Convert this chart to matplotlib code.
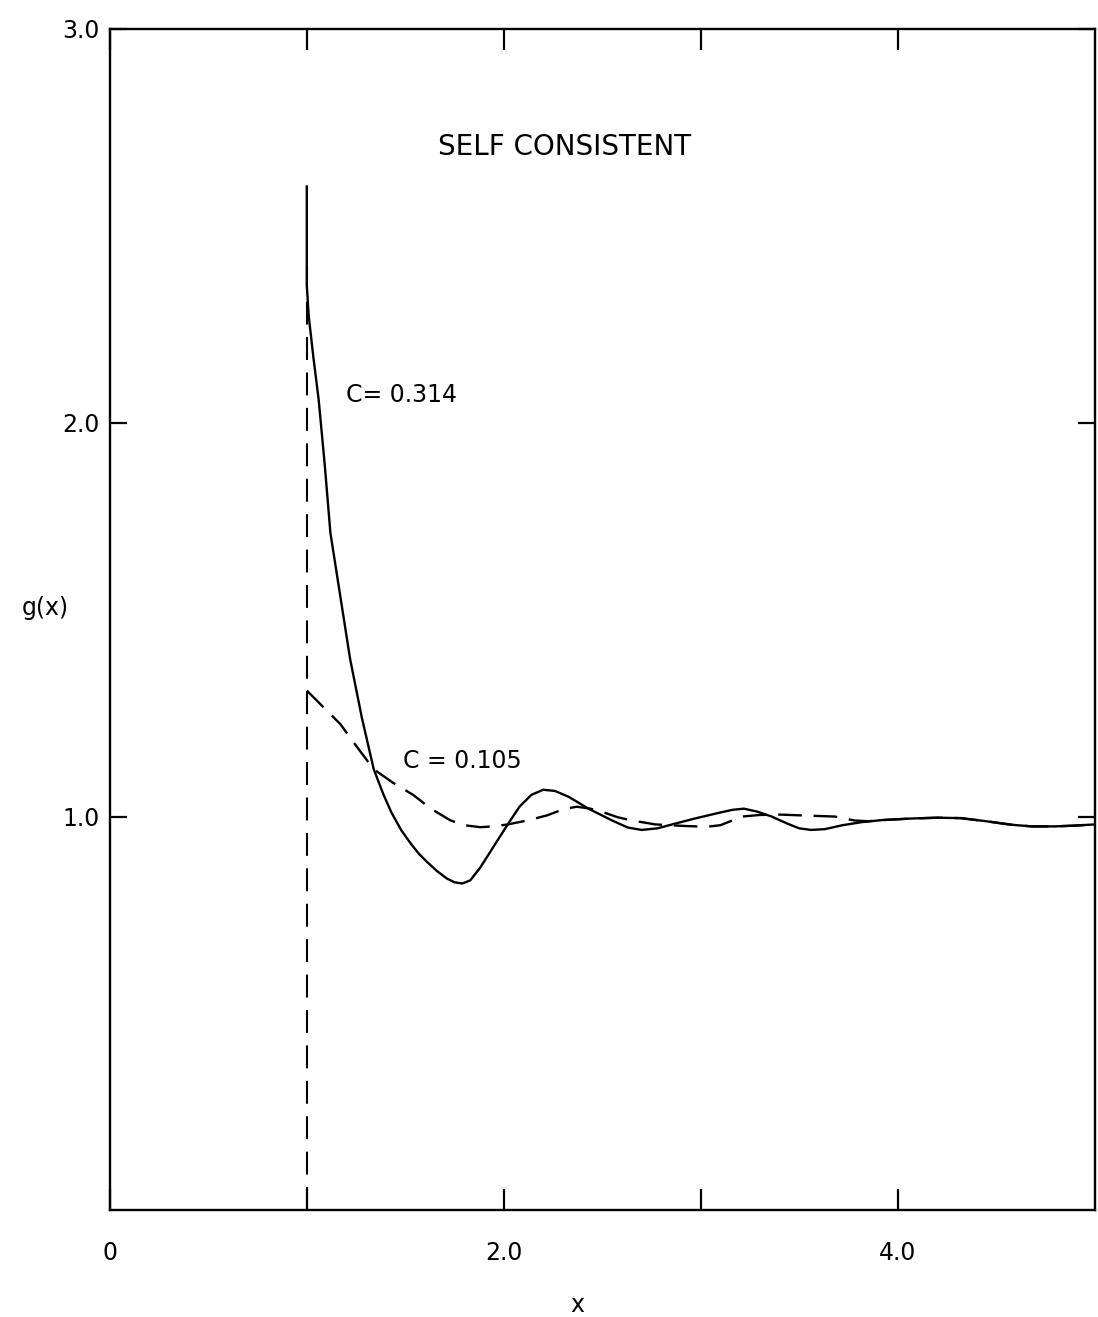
import numpy as np
import matplotlib.pyplot as plt

# g(x) for the self consistent solution, two concentrations
x_c314 = [1.0, 1.0, 1.01, 1.035, 1.06, 1.09, 1.12, 1.17, 1.22, 1.28, 1.34, 1.39,
          1.43, 1.48, 1.53, 1.57, 1.61, 1.66, 1.71, 1.75, 1.79, 1.83, 1.88,
          1.95, 2.02, 2.08, 2.14, 2.20, 2.26, 2.33, 2.43, 2.55, 2.63, 2.70,
          2.78, 2.87, 2.97, 3.08, 3.16, 3.22, 3.29, 3.36, 3.44, 3.50, 3.56,
          3.63, 3.72, 3.82, 3.92, 4.07, 4.20, 4.32, 4.45, 4.58, 4.68, 4.80,
          4.90, 5.0]
g_c314 = [2.60, 2.35, 2.27, 2.16, 2.06, 1.90, 1.72, 1.56, 1.40, 1.25, 1.12, 1.055,
          1.01, 0.965, 0.93, 0.905, 0.885, 0.862, 0.843, 0.833, 0.83, 0.838, 0.87,
          0.925, 0.98, 1.025, 1.055, 1.068, 1.065, 1.05, 1.02, 0.99, 0.972, 0.966,
          0.97, 0.982, 0.995, 1.008, 1.017, 1.02, 1.012, 1.0, 0.982, 0.97, 0.966,
          0.968, 0.978, 0.986, 0.991, 0.995, 0.997, 0.996, 0.988, 0.979, 0.975, 0.975,
          0.977, 0.98]

x_c105 = [1.0, 1.05, 1.10, 1.17, 1.25, 1.34, 1.44, 1.54, 1.63, 1.73, 1.80, 1.88,
          1.95, 2.02, 2.12, 2.22, 2.30, 2.37, 2.44, 2.51, 2.58, 2.65, 2.77,
          2.92, 3.03, 3.10, 3.16, 3.21, 3.30, 3.40, 3.56, 3.68, 3.78, 3.85,
          3.92, 4.07, 4.20, 4.32, 4.45, 4.58, 4.68, 4.80, 4.90, 5.0]
g_c105 = [1.32, 1.295, 1.27, 1.235, 1.18, 1.12, 1.085, 1.055, 1.02, 0.99, 0.978, 0.973,
          0.975, 0.98, 0.99, 1.003, 1.018, 1.025, 1.02, 1.01, 0.998, 0.99, 0.98,
          0.976, 0.974, 0.978, 0.99, 1.0, 1.004, 1.005, 1.002, 1.0, 0.99, 0.988,
          0.991, 0.995, 0.997, 0.996, 0.988, 0.979, 0.975, 0.975, 0.977, 0.98]

# hard core contact line
x_core = 1.0
g_core = [0.0, 2.4]

xticks = [0, 1, 2, 3, 4]
xticklabels = ['0', '', '2.0', '', '4.0']
yticks = [1, 2, 3]
yticklabels = ['1.0', '2.0', '3.0']

fig = plt.figure(figsize=(10.98, 13.17), dpi=100)
ax = fig.add_axes([0.1, 0.081, 0.897, 0.897])

ax.plot(x_c314, g_c314, color='black', lw=1.7, solid_joinstyle='round')
ax.plot(x_c105, g_c105, color='black', lw=1.7, dashes=(10, 5))
ax.plot([x_core, x_core], g_core, color='black', lw=1.5, dashes=(11, 6))

ax.set_xlim(0, 5)
ax.set_ylim(0, 3)
ax.set_xticks(xticks)
ax.set_xticklabels(xticklabels, fontsize=17)
ax.set_yticks(yticks)
ax.set_yticklabels(yticklabels, fontsize=17)
ax.tick_params(direction='in', length=15, width=1.6, top=True, right=True)
ax.tick_params(axis='x', pad=22)
ax.tick_params(axis='y', length=12, pad=7)
for s in ax.spines.values():
    s.set_linewidth(1.7)

ax.text(2.31, 2.7, 'SELF CONSISTENT', fontsize=20, ha='center', va='center')
ax.text(1.2, 2.07, 'C= 0.314', fontsize=17, ha='left', va='center')
ax.text(1.49, 1.14, 'C = 0.105', fontsize=17, ha='left', va='center')

# axis titles placed by hand, outside the frame
ax.text(-0.065, 0.51, 'g(x)', fontsize=17, ha='center', va='center',
        transform=ax.transAxes)
ax.text(0.475, -0.08, 'x', fontsize=17, ha='center', va='center',
        transform=ax.transAxes)

fig.savefig('out.png', dpi=100)
